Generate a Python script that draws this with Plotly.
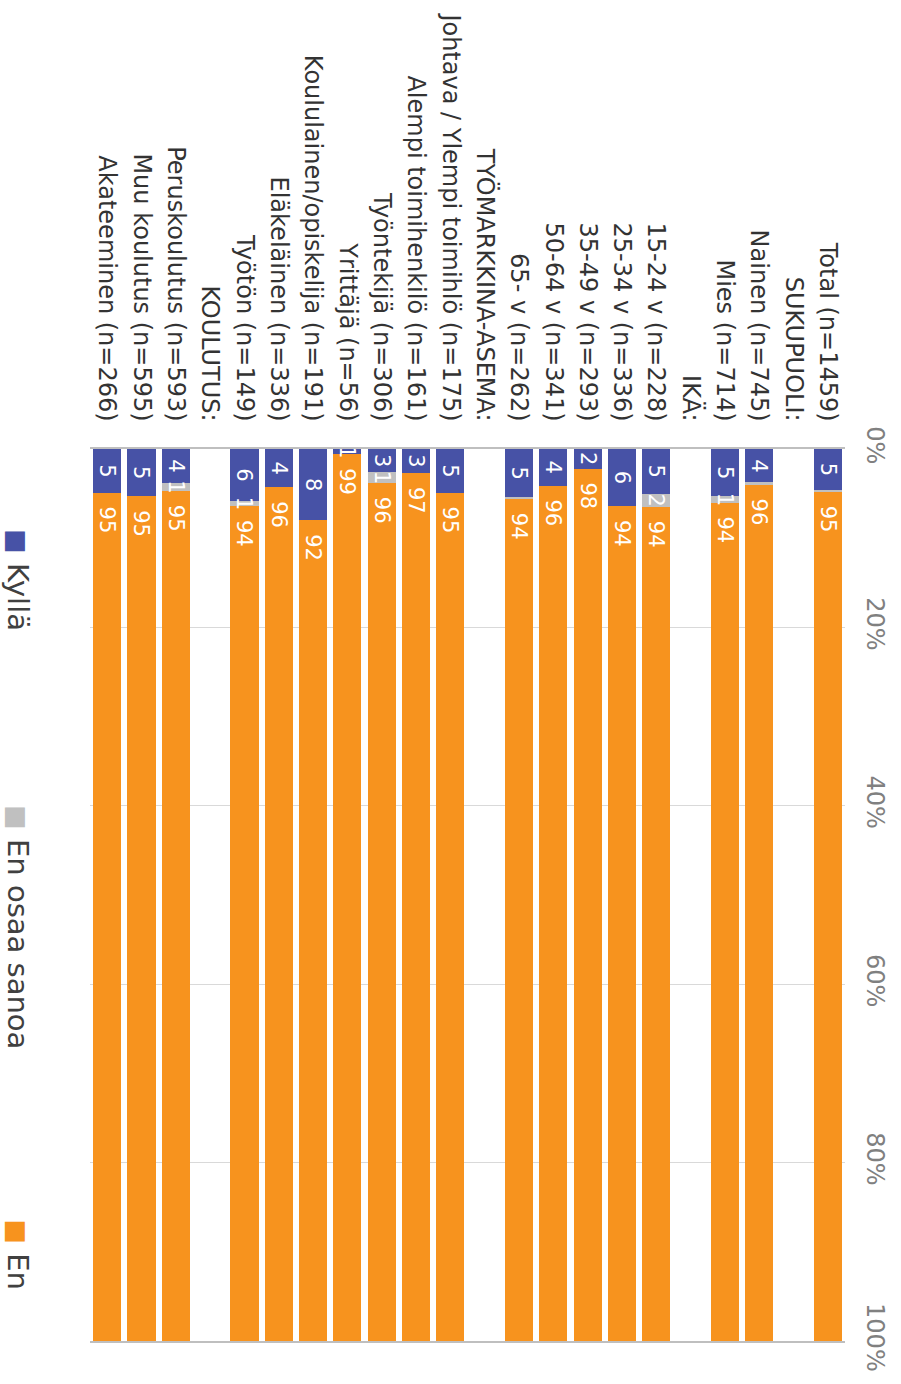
import plotly.graph_objects as go

categories = [
    "Total (n=1459)", "SUKUPUOLI:", "Nainen (n=745)", "Mies (n=714)", "IKÄ:",
    "15-24 v (n=228)", "25-34 v (n=336)", "35-49 v (n=293)", "50-64 v (n=341)", "65- v (n=262)",
    "TYÖMARKKINA-ASEMA:", "Johtava / Ylempi toimihlö (n=175)", "Alempi toimihenkilö (n=161)",
    "Työntekijä (n=306)", "Yrittäjä (n=56)", "Koululainen/opiskelija (n=191)", "Eläkeläinen (n=336)",
    "Työtön (n=149)", "KOULUTUS:", "Peruskoulutus (n=593)", "Muu koulutus (n=595)", "Akateeminen (n=266)",
]
kylla = [4.6, None, 3.8, 5.3, None, 5.0, 6.4, 2.2, 4.1, 5.4, None, 4.9, 2.7, 2.6, 0.6, 8.0, 4.3, 5.8, None, 3.8, 5.3, 4.9]
eos = [0.2, None, 0.2, 0.7, None, 1.5, 0.0, 0.0, 0.0, 0.2, None, 0.0, 0.0, 1.2, 0.0, 0.0, 0.0, 0.6, None, 0.9, 0.0, 0.0]
en = [95.2, None, 96.0, 94.0, None, 93.5, 93.6, 97.8, 95.9, 94.4, None, 95.1, 97.3, 96.2, 99.4, 92.0, 95.7, 93.6, None, 95.3, 94.7, 95.1]
tick_vals = [0, 20, 40, 60, 80, 100]
tick_text = ["0%", "20%", "40%", "60%", "80%", "100%"]

PAD = "\u00a0\u2009"
series = [
    ("Kyllä", kylla, "#4752a6", "middle", "%{text}"),
    ("En osaa sanoa", eos, "#c0c0c0", "middle", "%{text}"),
    ("En", en, "#f7931e", "start", PAD + "%{text}"),
]


def labels(vals):
    out = []
    for v in vals:
        if v is None or round(v) < 1:
            out.append("")
        else:
            out.append(str(round(v)))
    return out


fig = go.Figure()
# coloured bars
for name, vals, color, anchor, tmpl in series:
    fig.add_trace(go.Bar(
        x=categories, y=vals, name=name, marker=dict(color=color, line=dict(width=0)),
        showlegend=False, hoverinfo="skip", xaxis="x", yaxis="y",
    ))
# labels drawn on an overlaid copy of the axes so they sit above every bar
for name, vals, color, anchor, tmpl in series:
    txt = labels(vals)
    fig.add_trace(go.Bar(
        x=categories, y=vals, name=name, marker=dict(color="rgba(0,0,0,0)", line=dict(width=0)),
        text=txt, texttemplate=[tmpl if t else "" for t in txt],
        textposition="inside", insidetextanchor=anchor, textangle=90,
        textfont=dict(color="white", size=21, family="DejaVu Sans"), showlegend=False,
        hoverinfo="skip", xaxis="x2", yaxis="y2",
    ))

fig.update_layout(
    width=901, height=1384, barmode="stack", bargap=0.18,
    margin=dict(l=90, r=56, t=443, b=39),
    paper_bgcolor="white", plot_bgcolor="white",
    font=dict(family="DejaVu Sans", color="#333333"),
    uniformtext=dict(minsize=21, mode="show"),
    xaxis=dict(side="top", autorange="reversed", tickangle=90, ticks="", ticklabelstandoff=17,
               tickfont=dict(size=24, color="#333333", family="DejaVu Sans"),
               showline=True, mirror=True, linecolor="#bfbfbf", linewidth=2, showgrid=False),
    yaxis=dict(range=[100, 0], side="right", tickvals=tick_vals, ticktext=tick_text,
               tickangle=90, ticklabelstandoff=16,
               tickfont=dict(size=24, color="#808080", family="DejaVu Sans"),
               showgrid=True, gridcolor="#d9d9d9", gridwidth=1, zeroline=False, ticks=""),
    xaxis2=dict(overlaying="x", matches="x", showticklabels=False, showgrid=False,
                showline=False, ticks=""),
    yaxis2=dict(overlaying="y", matches="y", showticklabels=False, showgrid=False,
                showline=False, zeroline=False, ticks=""),
)

legend_items = [("Kyllä", "#4752a6", 0.853), ("En osaa sanoa", "#c0c0c0", 0.464), ("En", "#f7931e", 0.096)]
for name, color, ypos in legend_items:
    fig.add_annotation(
        xref="paper", yref="paper", x=-0.0955, y=ypos, xanchor="center", yanchor="middle",
        text=f"<span style='color:{color};font-size:26px'>■</span> {name}", textangle=90,
        showarrow=False, font=dict(size=29, color="#404040", family="DejaVu Sans"),
    )

fig.write_html(
    "out.html",
    config={"displayModeBar": False},
    post_script="document.body.style.margin='0';document.body.style.padding='0';",
)
